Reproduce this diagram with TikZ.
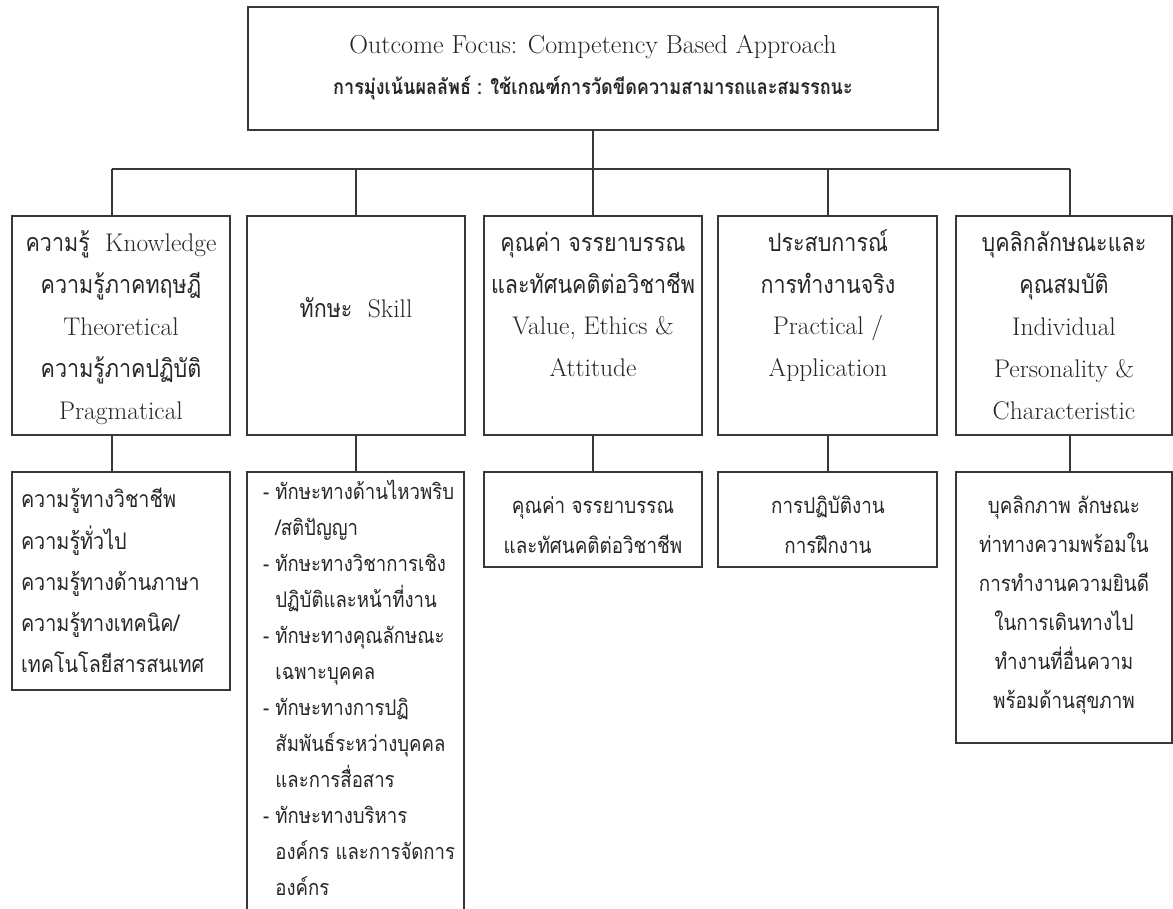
\documentclass[tikz,border=0pt]{standalone}
\usepackage{fontspec}
\newfontfamily\thai[Script=Thai,FakeStretch=0.86]{Loma}
\definecolor{ink}{HTML}{262626}
\definecolor{edge}{HTML}{383838}
% font set-ups: size / baseline skip
\newcommand\titlefont{\fontsize{26}{41}\selectfont}
\newcommand\headfont{\fontsize{25.5}{42}\selectfont}
\newcommand\thx{\thai\fontsize{25}{42}\selectfont}
\begin{document}
\begin{tikzpicture}[x=1pt,y=-1pt,
  frame/.style={draw=edge,line width=1.3pt,inner sep=0pt,outer sep=0pt,fill=none},
  link/.style={draw=edge,line width=1.3pt},
  lbl/.style={inner sep=0pt,outer sep=0pt,text=ink,align=center,anchor=north},
  lbll/.style={lbl,align=left,anchor=north west}]
\useasboundingbox (0,0) rectangle (1173,909);

% ---- boxes ----
\node[frame,minimum width=690pt,minimum height=123pt] (top) at (593,68.5) {};
\node[frame,minimum width=218pt,minimum height=219pt] (k1) at (121,325.5) {};
\node[frame,minimum width=218pt,minimum height=219pt] (s1) at (356,325.5) {};
\node[frame,minimum width=218pt,minimum height=219pt] (v1) at (593,325.5) {};
\node[frame,minimum width=219pt,minimum height=219pt] (p1) at (827.5,325.5) {};
\node[frame,minimum width=216pt,minimum height=219pt] (c1) at (1064,325.5) {};

\node[frame,minimum width=218pt,minimum height=218pt] (k2) at (121,581) {};
\node[frame,minimum width=217pt,minimum height=453pt] (s2) at (355.5,698.5) {};
\node[frame,minimum width=218pt,minimum height=95pt] (v2) at (593,519.5) {};
\node[frame,minimum width=219pt,minimum height=95pt] (p2) at (827.5,519.5) {};
\node[frame,minimum width=216pt,minimum height=271pt] (c2) at (1064,607.5) {};

% ---- connectors ----
\coordinate (j1) at (112,169);
\coordinate (j2) at (356,169);
\coordinate (j3) at (593,169);
\coordinate (j4) at (828,169);
\coordinate (j5) at (1070,169);
\draw[link] (top.south) -- (j3);
\draw[link] (j1) -- (j5);
\foreach \j/\a/\b in {j1/k1/k2, j2/s1/s2, j3/v1/v2, j4/p1/p2, j5/c1/c2}{
  \draw[link] (\j) -- (\j |- \a.north);
  \draw[link] (\a.south -| \j) -- (\b.north -| \j);
}

% ---- heading ----
\node[lbl,font=\titlefont] (title) at (593,25) {\strut Outcome Focus: Competency Based Approach\\
  \strut{\thai\fontsize{21}{41}\selectfont\bfseries การมุ่งเน้นผลลัพธ์ : ใช้เกณฑ์การวัดขีดความสามารถและสมรรถนะ}};

% ---- first row ----
\node[lbl,font=\headfont] (tk1) at (121,221.6) {\strut{\thx ความรู้}\ \ Knowledge\\
  \strut{\thx ความรู้ภาคทฤษฎี}\\ \strut Theoretical\\ \strut{\thx ความรู้ภาคปฏิบัติ}\\ \strut Pragmatical};
\node[lbl,font=\headfont] (ts1) at (356,288.6) {\strut{\thx ทักษะ}\ \ Skill};
\node[lbl,font=\headfont] (tv1) at (593,221.6) {\strut{\thx คุณค่า จรรยาบรรณ}\\
  \strut{\thx และทัศนคติต่อวิชาชีพ}\\ \strut Value, Ethics \&\\ \strut Attitude};
\node[lbl,font=\headfont] (tp1) at (828,221.6) {\strut{\thx ประสบการณ์}\\
  \strut{\thx การทำงานจริง}\\ \strut Practical /\\ \strut Application};
\node[lbl,font=\headfont] (tc1) at (1064,221.6) {\strut{\thx บุคลิกลักษณะและ}\\
  \strut{\thx คุณสมบัติ}\\ \strut Individual\\ \strut Personality \&\\ \strut Characteristic};

% ---- second row ----
\node[lbll,font=\thai\fontsize{23}{41.25}\selectfont] (tk2) at (21,479.1) {\strut ความรู้ทางวิชาชีพ\\
  \strut ความรู้ทั่วไป\\ \strut ความรู้ทางด้านภาษา\\ \strut ความรู้ทางเทคนิค/\\ \strut เทคโนโลยีสารสนเทศ};
\node[lbll,font=\thai\fontsize{21.6}{36}\selectfont] (ts2) at (263,473.8) {%
  \strut -\ ทักษะทางด้านไหวพริบ\\
  \strut\phantom{-\ }/สติปัญญา\\
  \strut -\ ทักษะทางวิชาการเชิง\\
  \strut\phantom{-\ }ปฏิบัติและหน้าที่งาน\\
  \strut -\ ทักษะทางคุณลักษณะ\\
  \strut\phantom{-\ }เฉพาะบุคคล\\
  \strut -\ ทักษะทางการปฏิ\\
  \strut\phantom{-\ }สัมพันธ์ระหว่างบุคคล\\
  \strut\phantom{-\ }และการสื่อสาร\\
  \strut -\ ทักษะทางบริหาร\\
  \strut\phantom{-\ }องค์กร และการจัดการ\\
  \strut\phantom{-\ }องค์กร};
\node[lbl,font=\thai\fontsize{21.9}{40}\selectfont] (tv2) at (593,485) {\strut คุณค่า จรรยาบรรณ\\
  \strut และทัศนคติต่อวิชาชีพ};
\node[lbl,font=\thai\fontsize{21.9}{40}\selectfont] (tp2) at (828,485) {\strut การปฏิบัติงาน\\
  \strut การฝึกงาน};
\node[lbl,font=\thai\fontsize{21.9}{39}\selectfont] (tc2) at (1064,485.7) {\strut บุคลิกภาพ ลักษณะ\\
  \strut ท่าทางความพร้อมใน\\ \strut การทำงานความยินดี\\ \strut ในการเดินทางไป\\
  \strut ทำงานที่อื่นความ\\ \strut พร้อมด้านสุขภาพ};
\end{tikzpicture}
\end{document}
